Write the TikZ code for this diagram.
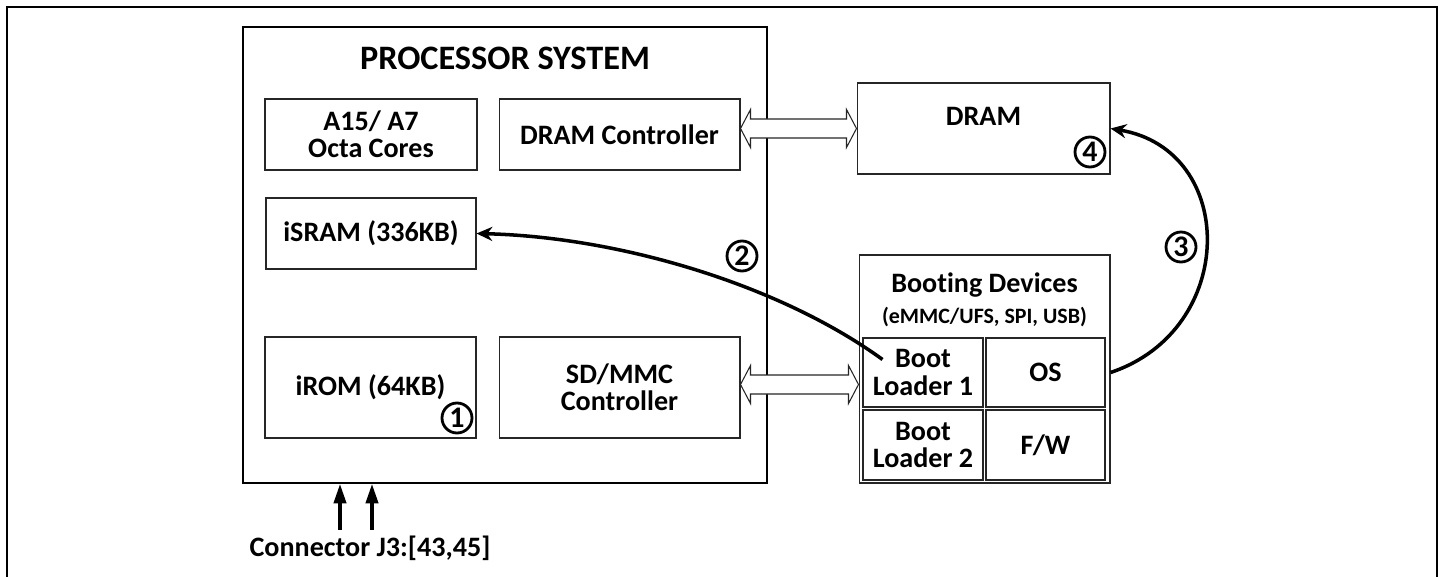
\documentclass[tikz,border=0pt]{standalone}
\usepackage{fontspec}
\setmainfont{Carlito}[Ligatures=NoCommon]
\usetikzlibrary{arrows.meta,calc,positioning}
\tikzset{%
    box/.style={rectangle, draw=black!85, line width=0.6pt, align=center, font=\fontsize{16}{15.5}\selectfont\bfseries},
    lbl/.style={align=center, font=\fontsize{16}{15.5}\selectfont\bfseries},
    pri/.style={line width=1.2pt},
    num/.style={circle, draw, line width=1.6pt, inner sep=0pt, minimum size=0.6cm, font=\fontsize{17}{17}\selectfont\bfseries},
    pra/.style={line width=2pt, -{Stealth[length=9pt,width=8pt]}},
    pin/.style={line width=1.8pt, -{Triangle[length=11pt,width=7pt]}},
    wid/.style={draw=black!85, line width=0.6pt, fill=white}
}
\newcommand{\widearrow}[2]{%
    \draw [wid] (#1) -- ++(10,-19) -- ++(0,9.5) -- ($(#2)+(-10,-9.5)$) -- ++(0,-9.5) -- (#2)
        -- ++(-10,19) -- ++(0,-9.5) -- ($(#1)+(10,9.5)$) -- ++(0,9.5) -- cycle;}

\begin{document}
\begin{tikzpicture}[x=0.02cm,y=-0.02cm]
    \useasboundingbox (0,0) rectangle (1443,577);
    \draw [pri] (7,580)--(7,7)--(1437,7)--(1437,580);
    \node [box,draw=black,pri,minimum width=10.48cm,minimum height=9.12cm] (proc) at (505,255) {};
    \node [lbl,font=\fontsize{19.5}{20}\selectfont\bfseries] (title) at (505,58) {PROCESSOR SYSTEM};
    \node [box,minimum width=4.24cm,minimum height=1.42cm] (cores) at (371,134.5) {A15/ A7\\Octa Cores};
    \node [box,minimum width=4.82cm,minimum height=1.42cm] (dramc) at (619.5,134.5) {DRAM Controller};
    \node [box,minimum width=4.2cm,minimum height=1.42cm] (isram) at (371,233.5) {iSRAM (336KB)};
    \node [box,minimum width=4.22cm,minimum height=2.02cm] (irom) at (370.5,387.5) {iROM (64KB)};
    \node [box,minimum width=4.82cm,minimum height=2.02cm] (sdmmc) at (619.5,387.5) {SD/MMC\\Controller};
    \node [box,minimum width=5.06cm,minimum height=1.82cm] (dram) at (983.5,128.5) {};
    \node [lbl] (dramtxt) at (983.5,116) {DRAM};
    \node [box,minimum width=5.02cm,minimum height=4.56cm] (boot) at (984.5,369) {};
    \node [lbl] (btitle) at (984.5,285) {Booting Devices};
    \node [lbl,font=\fontsize{12.5}{13}\selectfont\bfseries] (bsub) at (984.5,317) {(eMMC/UFS, SPI, USB)};
    \node [box,minimum width=2.4cm,minimum height=1.38cm] (bl1) at (923,372.5) {Boot\\Loader 1};
    \node [box,minimum width=2.38cm,minimum height=1.38cm] (os) at (1045.5,372.5) {OS};
    \node [box,minimum width=2.4cm,minimum height=1.4cm] (bl2) at (923,445) {Boot\\Loader 2};
    \node [box,minimum width=2.38cm,minimum height=1.4cm] (fw) at (1045.5,445) {F/W};
    \coordinate (dl) at (dramc.east |- dram.west);
    \widearrow{dl}{dram.west}
    \coordinate (sl) at ($(sdmmc.east)+(0,-3)$);
    \coordinate (sr) at (sl -| boot.west);
    \widearrow{sl}{sr}
    \coordinate (s2) at ($(bl1.north west)+(20,22)$);
    \draw [pra] (s2) .. controls (780,285) and (620,237) .. (isram.east);
    \coordinate (s3) at (boot.east |- os.east);
    \draw [pra] (s3) .. controls (1238,330) and (1238,150) .. (dram.east);
    \node [num] (n1) at (457,418) {1};
    \node [num] (n2) at (742,256) {2};
    \node [num] (n3) at (1181,247) {3};
    \node [num] (n4) at (1090,152) {4};
    \node [lbl] (conn) at (370,548) {Connector J3:[43,45]};
    \coordinate (c1) at (340,530);
    \coordinate (c2) at (372,530);
    \draw [pin] (c1) -- (c1 |- proc.south);
    \draw [pin] (c2) -- (c2 |- proc.south);
\end{tikzpicture}
\end{document}
